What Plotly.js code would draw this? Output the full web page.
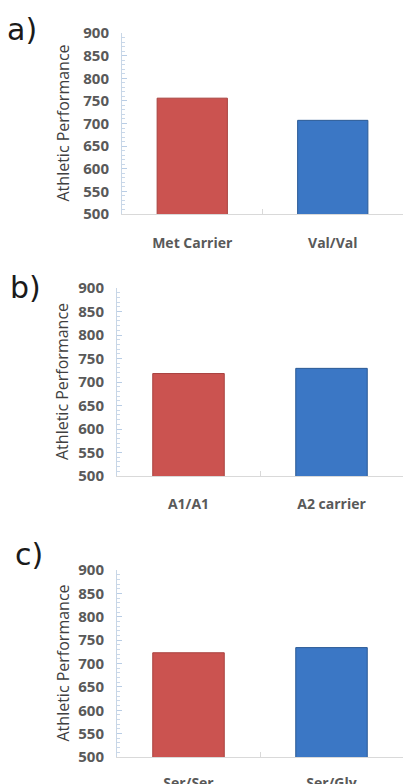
<!DOCTYPE html>
<html>
<head>
<meta charset="utf-8">
<script src="https://cdn.plot.ly/plotly-3.0.1.min.js"></script>
<style>html,body{margin:0;padding:0;background:#fff;}#chart{width:403px;height:784px;}</style>
</head>
<body>
<div id="chart"></div>
<script>
// Data
const panelLabels = ["a)", "b)", "c)"];
const catsA = ["Met Carrier", "Val/Val"];
const valsA = [756, 707];
const catsB = ["A1/A1", "A2 carrier"];
const valsB = [718, 729];
const catsC = ["Ser/Ser", "Ser/Gly"];
const valsC = [723, 734];
const yTitle = "Athletic Performance";
const yRange = [500, 900];

const W = 403, H = 784;
const red = "#CB5350", blue = "#3B77C5";
const redLine = "#A8423F", blueLine = "#2B5A95";

function barTrace(cats, vals, xa, ya) {
  return {
    type: "bar", x: cats, y: vals, xaxis: xa, yaxis: ya, width: 0.5,
    marker: { color: [red, blue], line: { color: [redLine, blueLine], width: 1 } },
    hoverinfo: "none", showlegend: false
  };
}

const data = [
  barTrace(catsA, valsA, "x", "y"),
  barTrace(catsB, valsB, "x2", "y2"),
  barTrace(catsC, valsC, "x3", "y3")
];

const xTickFont = { family: "Open Sans, Liberation Sans, sans-serif", size: 14, color: "#595959", weight: "bold" };
const yTickFont = { family: "Open Sans, Liberation Sans, sans-serif", size: 15, color: "#595959", weight: "bold" };

function xAxis(left, anchor, standoff) {
  return {
    domain: [left / W, 1], anchor: anchor, type: "category", range: [-0.5, 1.5],
    showline: true, linecolor: "#D9D9D9", linewidth: 1,
    tickson: "boundaries", ticks: "inside", ticklen: 5, tickcolor: "#D9D9D9",
    showgrid: false, zeroline: false, tickfont: xTickFont, ticklabelstandoff: standoff,
    fixedrange: true
  };
}
function yAxis(top, bottom, anchor) {
  return {
    domain: [1 - bottom / H, 1 - top / H], anchor: anchor, range: yRange,
    dtick: 50, tick0: 500, showline: true, linecolor: "#C8D6E6", linewidth: 1,
    ticks: "inside", ticklen: 5, tickcolor: "#B9CDE5",
    minor: { dtick: 10, ticks: "inside", ticklen: 3, tickcolor: "#C9D8EA" },
    showgrid: false, zeroline: false, tickfont: yTickFont, ticklabelstandoff: 9,
    fixedrange: true
  };
}

const panels = [
  { left: 122, top: 33, bottom: 214, standoff: 16 },
  { left: 117, top: 288, bottom: 476, standoff: 15 },
  { left: 117, top: 570, bottom: 757, standoff: 13 }
];

const labelPos = [
  { x: 5, y: 29 },
  { x: 8, y: 287 },
  { x: 13, y: 554 }
];
const titleX = [63, 62, 62];

const annotations = [];
panels.forEach((p, i) => {
  annotations.push({
    xref: "paper", yref: "paper", x: labelPos[i].x / W, y: 1 - labelPos[i].y / H,
    xanchor: "left", yanchor: "middle", showarrow: false, text: panelLabels[i],
    font: { family: "DejaVu Sans, Verdana, sans-serif", size: 30, color: "#1a1a1a" }
  });
  annotations.push({
    xref: "paper", yref: "paper", x: titleX[i] / W, y: 1 - (p.top + p.bottom) / 2 / H,
    xanchor: "center", yanchor: "middle", showarrow: false, textangle: -90, text: yTitle,
    font: { family: "Open Sans, Liberation Sans, sans-serif", size: 16, color: "#404040" }
  });
});

const layout = {
  width: W, height: H, autosize: false,
  margin: { l: 0, r: 0, t: 0, b: 0 },
  paper_bgcolor: "#fff", plot_bgcolor: "#fff",
  showlegend: false,
  xaxis: xAxis(panels[0].left, "y", panels[0].standoff),
  yaxis: yAxis(panels[0].top, panels[0].bottom, "x"),
  xaxis2: xAxis(panels[1].left, "y2", panels[1].standoff),
  yaxis2: yAxis(panels[1].top, panels[1].bottom, "x2"),
  xaxis3: xAxis(panels[2].left, "y3", panels[2].standoff),
  yaxis3: yAxis(panels[2].top, panels[2].bottom, "x3"),
  annotations: annotations
};

Plotly.newPlot("chart", data, layout, { displayModeBar: false, staticPlot: true });
</script>
</body>
</html>
